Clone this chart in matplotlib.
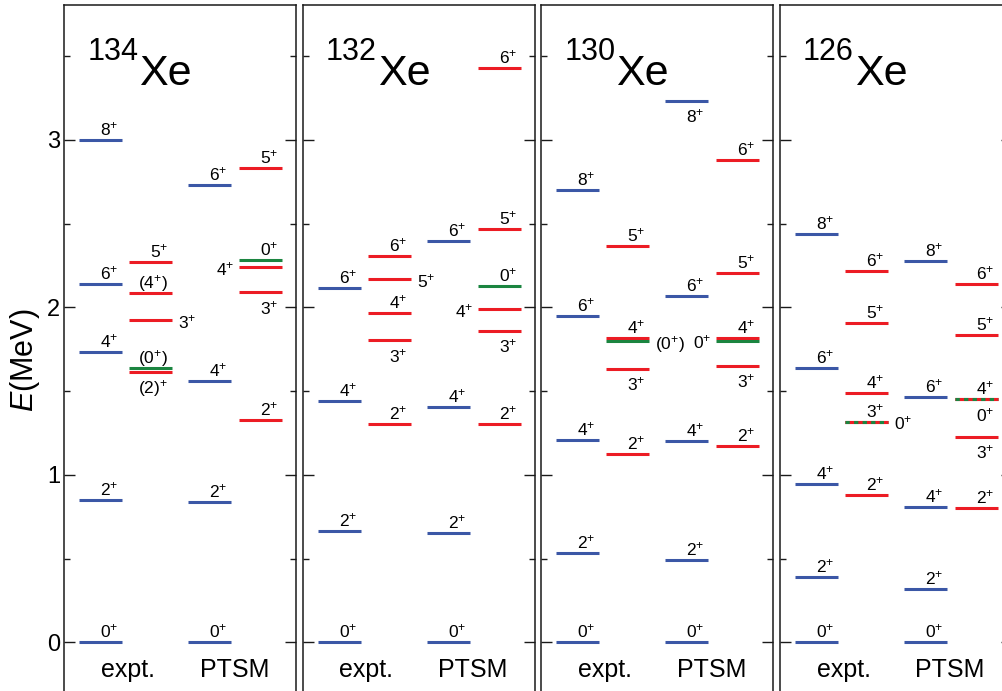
import matplotlib
matplotlib.use("Agg")
import matplotlib.pyplot as plt
from matplotlib.ticker import MultipleLocator

plt.rcParams['font.family'] = ['Liberation Sans', 'DejaVu Sans']
plt.rcParams['mathtext.fontset'] = 'custom'
plt.rcParams['mathtext.rm'] = 'Liberation Sans'
plt.rcParams['mathtext.it'] = 'Liberation Sans:italic'
plt.rcParams['mathtext.bf'] = 'Liberation Sans:bold'

# ---------------- data (MeV) ----------------
nuclei = ["134", "132", "130", "126"]
column_names = ["expt.", "PTSM"]

gsb_spins = [0, 2, 4, 6, 8]

# ground-state bands (blue)
xe134_expt_gsb = [0.0, 0.850, 1.734, 2.140, 3.002]
xe134_ptsm_gsb = [0.0, 0.836, 1.561, 2.731]
xe132_expt_gsb = [0.0, 0.665, 1.443, 2.114]
xe132_ptsm_gsb = [0.0, 0.655, 1.407, 2.399]
xe130_expt_gsb = [0.0, 0.535, 1.206, 1.947, 2.701]
xe130_ptsm_gsb = [0.0, 0.492, 1.200, 2.070, 3.235]
xe126_expt_gsb = [0.0, 0.388, 0.944, 1.638, 2.439]
xe126_ptsm_gsb = [0.0, 0.317, 0.810, 1.465, 2.277]

# label placement for gsb levels ('a' above, 'b' below)
xe130_ptsm_gsb_lab = ["a", "a", "a", "a", "b"]

# side bands (red gamma band, green 0+ states)
xe134_expt_side_E = [1.616, 1.640, 1.923, 2.086, 2.273]
xe134_expt_side_J = ["(2)^{+}", "(0^{+})", "3^{+}", "(4^{+})", "5^{+}"]
xe134_expt_side_kind = ["r", "g", "r", "r", "r"]
xe134_expt_side_lab = ["b", "a", "r", "a", "a"]

xe134_ptsm_side_E = [1.326, 2.092, 2.240, 2.283, 2.835]
xe134_ptsm_side_J = ["2^{+}", "3^{+}", "4^{+}", "0^{+}", "5^{+}"]
xe134_ptsm_side_kind = ["r", "r", "r", "g", "r"]
xe134_ptsm_side_lab = ["a", "b", "l", "a", "a"]

xe132_expt_side_E = [1.302, 1.806, 1.965, 2.170, 2.307]
xe132_expt_side_J = ["2^{+}", "3^{+}", "4^{+}", "5^{+}", "6^{+}"]
xe132_expt_side_kind = ["r", "r", "r", "r", "r"]
xe132_expt_side_lab = ["a", "b", "a", "r", "a"]

xe132_ptsm_side_E = [1.302, 1.861, 1.989, 2.130, 2.468, 3.428]
xe132_ptsm_side_J = ["2^{+}", "3^{+}", "4^{+}", "0^{+}", "5^{+}", "6^{+}"]
xe132_ptsm_side_kind = ["r", "r", "r", "g", "r", "r"]
xe132_ptsm_side_lab = ["a", "b", "l", "a", "a", "a"]

xe130_expt_side_E = [1.125, 1.634, 1.815, 1.798, 2.367]
xe130_expt_side_J = ["2^{+}", "3^{+}", "4^{+}", "(0^{+})", "5^{+}"]
xe130_expt_side_kind = ["r", "r", "r", "g", "r"]
xe130_expt_side_lab = ["a", "b", "a", "r", "a"]

xe130_ptsm_side_E = [1.172, 1.652, 1.815, 1.802, 2.206, 2.881]
xe130_ptsm_side_J = ["2^{+}", "3^{+}", "4^{+}", "0^{+}", "5^{+}", "6^{+}"]
xe130_ptsm_side_kind = ["r", "r", "r", "g", "r", "r"]
xe130_ptsm_side_lab = ["a", "b", "a", "l", "a", "a"]

xe126_expt_side_E = [0.880, 1.318, 1.318, 1.491, 1.907, 2.218]
xe126_expt_side_J = ["2^{+}", "3^{+}", "0^{+}", "4^{+}", "5^{+}", "6^{+}"]
xe126_expt_side_kind = ["r", "r", "gd", "r", "r", "r"]
xe126_expt_side_lab = ["a", "a", "r", "a", "a", "a"]

xe126_ptsm_side_E = [0.802, 1.228, 1.453, 1.453, 1.834, 2.140]
xe126_ptsm_side_J = ["2^{+}", "3^{+}", "4^{+}", "0^{+}", "5^{+}", "6^{+}"]
xe126_ptsm_side_kind = ["r", "r", "r", "gd", "r", "r"]
xe126_ptsm_side_lab = ["a", "b", "a", "b", "a", "a"]

# ---------------- styling ----------------
BLUE = "#3b57a6"
RED = "#ec1c24"
GREEN = "#1b8540"
LW = 2.2
PX = 0.72           # points per pixel at dpi 100
COL_X = [15, 65, 124, 175]
COL_W = 43
LAB_FS = 12.5

W, H = 1003, 691
fig = plt.figure(figsize=(W / 100, H / 100), dpi=100)

ymin, ymax = -0.35, 3.806
scale = 167.43  # px per MeV
ax_h_px = (ymax - ymin) * scale
top_px = 5.0
panel_w = 232.0
panel_step = 238.6
panel_left0 = 64.3


def draw_level(ax, x0, E, kind):
    xs = [x0, x0 + COL_W]
    if kind == "b":
        ax.plot(xs, [E, E], color=BLUE, lw=LW, solid_capstyle="butt", zorder=3)
    elif kind == "r":
        ax.plot(xs, [E, E], color=RED, lw=LW, solid_capstyle="butt", zorder=3)
    elif kind == "g":
        ax.plot(xs, [E, E], color=GREEN, lw=LW, solid_capstyle="butt", zorder=4)
    elif kind == "gd":
        ax.plot(xs, [E, E], color=GREEN, lw=LW, dashes=(1.4, 1.4),
                dash_capstyle="butt", zorder=4)


def draw_label(ax, x0, E, J, pos):
    txt = r"$\mathregular{" + J + "}$"
    x1 = x0 + COL_W
    if pos == "a":
        xy, off, ha = (x1, E), (-4 * PX, 4.7 * PX), "right"
    elif pos == "b":
        xy, off, ha = (x1, E), (-4 * PX, -22 * PX), "right"
    elif pos == "r":
        xy, off, ha = (x1, E), (6 * PX, -8 * PX), "left"
    else:
        xy, off, ha = (x0, E), (-5 * PX, -8 * PX), "right"
    ax.annotate(txt, xy=xy, xytext=off, textcoords="offset points",
                ha=ha, va="baseline", fontsize=LAB_FS, color="black", zorder=5)


gsb_data = [
    (xe134_expt_gsb, xe134_ptsm_gsb, None),
    (xe132_expt_gsb, xe132_ptsm_gsb, None),
    (xe130_expt_gsb, xe130_ptsm_gsb, xe130_ptsm_gsb_lab),
    (xe126_expt_gsb, xe126_ptsm_gsb, None),
]
side_data = [
    ((xe134_expt_side_E, xe134_expt_side_J, xe134_expt_side_kind, xe134_expt_side_lab),
     (xe134_ptsm_side_E, xe134_ptsm_side_J, xe134_ptsm_side_kind, xe134_ptsm_side_lab)),
    ((xe132_expt_side_E, xe132_expt_side_J, xe132_expt_side_kind, xe132_expt_side_lab),
     (xe132_ptsm_side_E, xe132_ptsm_side_J, xe132_ptsm_side_kind, xe132_ptsm_side_lab)),
    ((xe130_expt_side_E, xe130_expt_side_J, xe130_expt_side_kind, xe130_expt_side_lab),
     (xe130_ptsm_side_E, xe130_ptsm_side_J, xe130_ptsm_side_kind, xe130_ptsm_side_lab)),
    ((xe126_expt_side_E, xe126_expt_side_J, xe126_expt_side_kind, xe126_expt_side_lab),
     (xe126_ptsm_side_E, xe126_ptsm_side_J, xe126_ptsm_side_kind, xe126_ptsm_side_lab)),
]

for i, A in enumerate(nuclei):
    left = (panel_left0 + i * panel_step) / W
    bottom = 1 - (top_px + ax_h_px) / H
    ax = fig.add_axes([left, bottom, panel_w / W, ax_h_px / H])
    ax.set_xlim(0, panel_w)
    ax.set_ylim(ymin, ymax)
    ax.set_xticks([])
    ax.yaxis.set_major_locator(MultipleLocator(1))
    ax.yaxis.set_minor_locator(MultipleLocator(0.5))
    ax.tick_params(axis="y", which="both", direction="in", left=True, right=True,
                   labelleft=(i == 0), labelsize=17, pad=3, color="#1a1a1a")
    ax.tick_params(axis="y", which="major", length=8, width=1.0)
    ax.tick_params(axis="y", which="minor", length=4, width=1.0)
    for s in ax.spines.values():
        s.set_linewidth(1.1)
        s.set_color("#1a1a1a")

    # ground-state bands
    g_expt, g_ptsm, g_lab = gsb_data[i]
    for col, energies in ((0, g_expt), (2, g_ptsm)):
        for k, E in enumerate(energies):
            draw_level(ax, COL_X[col], E, "b")
            pos = "a"
            if col == 2 and g_lab is not None:
                pos = g_lab[k]
            draw_label(ax, COL_X[col], E, "%d^{+}" % gsb_spins[k], pos)

    # side bands
    for col, (Es, Js, kinds, labs) in zip((1, 3), side_data[i]):
        for E, J, kind, pos in zip(Es, Js, kinds, labs):
            draw_level(ax, COL_X[col], E, kind)
            draw_label(ax, COL_X[col], E, J, pos)
        # red base for dashed red/green lines
        for E, kind in zip(Es, kinds):
            if kind == "gd":
                draw_level(ax, COL_X[col], E, "r")

    # title
    ax.text(23, 3.478, A, fontsize=22, ha="left", va="baseline")
    ax.text(75, 3.328, "Xe", fontsize=31, ha="left", va="baseline")

    # column names
    ax.text(63.5, -0.207, column_names[0], fontsize=18, ha="center", va="baseline")
    ax.text(170, -0.207, column_names[1], fontsize=18, ha="center", va="baseline")

fig.text(25 / W, 1 - 360 / H, r"$\mathit{E}$(MeV)", rotation=90,
         ha="center", va="center", fontsize=22)

fig.savefig("out.png", dpi=100)
